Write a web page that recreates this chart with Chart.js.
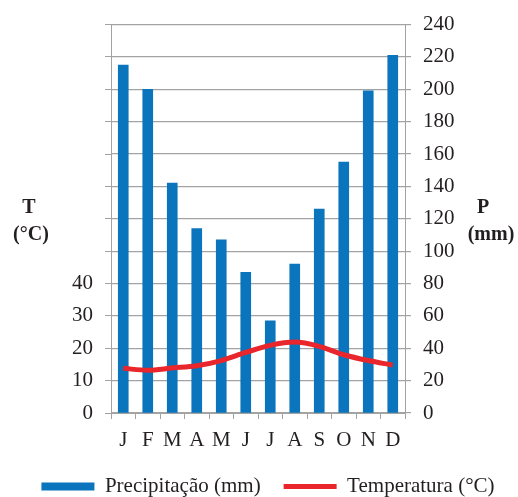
<!DOCTYPE html>
<html>
<head>
<meta charset="utf-8">
<script src="https://cdn.jsdelivr.net/npm/chart.js@4"></script>
<style>
  html, body { margin: 0; padding: 0; background: #fff; }
  #wrap { width: 518px; height: 497px; }
</style>
</head>
<body>
<div id="wrap"><canvas id="chart"></canvas></div>
<script>
const months = ['J', 'F', 'M', 'A', 'M', 'J', 'J', 'A', 'S', 'O', 'N', 'D'];
const precipitation = [215, 200, 142, 114, 107, 87, 57, 92, 126, 155, 199, 221];
const temperature = [13.8, 13.2, 13.9, 14.6, 16.2, 18.7, 20.9, 21.9, 20.6, 18.0, 16.2, 14.8];
const tempTicksShown = [0, 10, 20, 30, 40];

const COLORS = {
    bar:  '#0a75bc',
    line: '#e8262b',
    grid: '#a3a3a3',
    text: '#231f20',
};
const SERIF = "'Liberation Serif', 'Times New Roman', serif";

// side labels "T (°C)" and "P (mm)"
const sideTitles = {
    id: 'sideTitles',
    afterDraw(chart) {
        const c = chart.ctx;
        c.save();
        c.fillStyle = COLORS.text;
        c.font = 'bold 20px ' + SERIF;
        c.textAlign = 'center';
        c.textBaseline = 'alphabetic';
        c.fillText('T', 29, 213);
        c.fillText('(°C)', 31, 240);
        c.fillText('P', 483, 213);
        c.fillText('(mm)', 491, 240);
        c.restore();
    }
};

new Chart(document.getElementById('chart'), {
    type: 'bar',
    data: {
        labels: months,
        datasets: [
            {
                label: 'Precipitação (mm)',
                data: precipitation,
                backgroundColor: COLORS.bar,
                borderWidth: 0,
                barThickness: 10,
                yAxisID: 'yP',
                order: 1,
            },
            {
                type: 'line',
                label: 'Temperatura (°C)',
                data: temperature,
                borderColor: COLORS.line,
                backgroundColor: COLORS.line,
                borderWidth: 5,
                pointRadius: 0,
                tension: 0.4,
                cubicInterpolationMode: 'monotone',
                yAxisID: 'yT',
                order: 0,
            },
        ],
    },
    options: {
        responsive: true,
        maintainAspectRatio: false,
        animation: false,
        layout: { padding: { left: 18, right: 0, top: 8, bottom: -10 } },
        plugins: {
            tooltip: { enabled: false },
            legend: {
                position: 'bottom',
                labels: {
                    font: { family: SERIF, size: 21 },
                    color: COLORS.text,
                    usePointStyle: true,
                    pointStyleWidth: 53,
                    boxHeight: 8,
                    padding: 23,
                    generateLabels(chart) {
                        return [
                            { text: 'Precipitação (mm)', fillStyle: COLORS.bar, strokeStyle: COLORS.bar,
                              lineWidth: 0, pointStyle: 'rect', datasetIndex: 0, fontColor: COLORS.text },
                            { text: 'Temperatura (°C)', fillStyle: COLORS.line, strokeStyle: COLORS.line,
                              lineWidth: 5, pointStyle: 'line', datasetIndex: 1, fontColor: COLORS.text },
                        ];
                    },
                },
            },
        },
        scales: {
            x: {
                afterFit(scale) { scale.height = 40; },
                grid: { drawOnChartArea: false, drawTicks: true, tickLength: 6, color: COLORS.grid, offset: true },
                border: { color: COLORS.grid },
                ticks: {
                    font: { family: SERIF, size: 21 },
                    color: COLORS.text,
                    padding: 9,
                    autoSkip: false,
                    maxRotation: 0,
                    minRotation: 0,
                },
            },
            yT: {
                position: 'left',
                min: 0,
                max: 120,
                afterFit(scale) { scale.width = 93; },
                grid: { drawOnChartArea: false, tickLength: 6, color: COLORS.grid },
                border: { color: COLORS.grid },
                ticks: {
                    stepSize: 10,
                    font: { family: SERIF, size: 21 },
                    color: COLORS.text,
                    padding: 12,
                    callback: v => tempTicksShown.includes(v) ? v : '',
                },
            },
            yP: {
                position: 'right',
                min: 0,
                max: 240,
                afterFit(scale) { scale.width = 113; },
                grid: { drawOnChartArea: true, tickLength: 6, color: COLORS.grid, lineWidth: 1.2 },
                border: { color: COLORS.grid },
                ticks: { stepSize: 20, font: { family: SERIF, size: 21 }, color: COLORS.text, padding: 12 },
            },
        },
    },
    plugins: [sideTitles],
});
</script>
</body>
</html>
